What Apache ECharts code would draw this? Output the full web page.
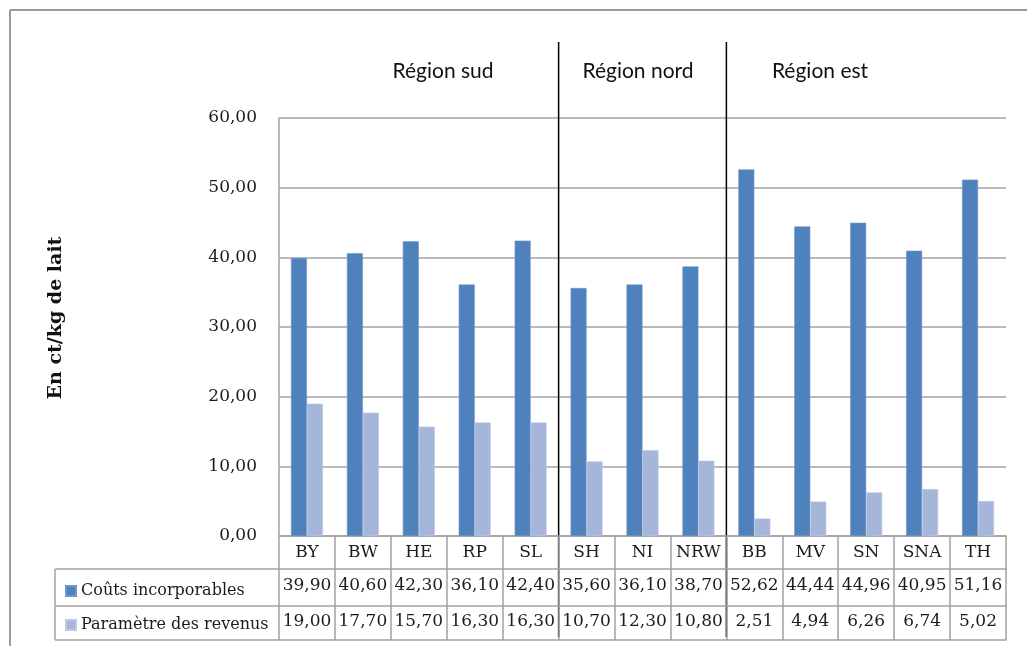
<!DOCTYPE html>
<html><head><meta charset="utf-8">
<script src="https://cdn.jsdelivr.net/npm/echarts@6/dist/echarts.min.js"></script>
<style>html,body{margin:0;padding:0;background:#fff}#c{width:1027px;height:646px}</style>
</head><body><div id="c"></div>
<script>
// ---- data ----
const categories = ['BY','BW','HE','RP','SL','SH','NI','NRW','BB','MV','SN','SNA','TH'];
const coutsIncorporables = [39.90,40.60,42.30,36.10,42.40,35.60,36.10,38.70,52.62,44.44,44.96,40.95,51.16];
const parametreRevenus = [19.00,17.70,15.70,16.30,16.30,10.70,12.30,10.80,2.51,4.94,6.26,6.74,5.02];
const seriesNames = ['Coûts incorporables','Paramètre des revenus'];
const regionNames = ['Région sud','Région nord','Région est'];
const regionBreaksAfter = ['SL','NRW'];
const yMin = 0, yMax = 60, yInterval = 10;
const yTitle = 'En ct/kg de lait';

// ---- style ----
const DARK = '#4F81BD', LIGHT = '#A5B6DA', GRID = '#A3A3A3', TXT = '#1C1C1C';
const SERIF = 'DejaVu Serif';
const fmt = v => v.toFixed(2).replace('.', ',');

const chart = echarts.init(document.getElementById('c'));
const rowAxis = (offset, tickLen, values, margin) => ({
  type: 'category', data: categories, position: 'bottom', offset: offset, gridIndex: 0,
  axisLine: {show: true, lineStyle: {color: GRID, width: 1.5}},
  axisTick: {show: true, interval: 0, length: tickLen, lineStyle: {color: GRID, width: 1.5}},
  axisLabel: values ? {show: true, interval: 0, margin: margin, fontFamily: SERIF, fontSize: 17, color: TXT,
    formatter: (v, i) => values === categories ? v : fmt(values[i])} : {show: false}
});

chart.setOption({
  animation: false,
  grid: {left: 279, top: 118, width: 727, height: 418},
  legend: {
    data: seriesNames, orient: 'vertical', left: 60, top: 578, itemGap: 18,
    itemWidth: 10, itemHeight: 10, icon: 'rect', selectedMode: false,
    textStyle: {fontFamily: SERIF, fontSize: 16, color: TXT}
  },
  xAxis: [
    rowAxis(0, 33, categories, 8),
    rowAxis(33, 37, coutsIncorporables, 8),
    rowAxis(70, 34, parametreRevenus, 7),
    rowAxis(104, 0, null, 0)
  ],
  yAxis: {
    type: 'value', min: yMin, max: yMax, interval: yInterval,
    axisLine: {show: true, lineStyle: {color: GRID, width: 1.5}},
    axisTick: {show: false},
    splitLine: {lineStyle: {color: GRID, width: 1.5}},
    axisLabel: {margin: 22, fontFamily: SERIF, fontSize: 17, color: TXT, formatter: v => fmt(v)}
  },
  series: [
    {name: seriesNames[0], type: 'bar', data: coutsIncorporables, barWidth: 16, barGap: '0%',
     itemStyle: {color: DARK, borderColor: '#6F97C9', borderWidth: 0.6}},
    {name: seriesNames[1], type: 'bar', data: parametreRevenus, barWidth: 16, barGap: '0%',
     itemStyle: {color: LIGHT, borderColor: '#BCCAE5', borderWidth: 0.6}}
  ]
});

// annotations: frame, legend-column table borders, region separators and labels, axis title
const px = c => chart.convertToPixel({xAxisIndex: 0}, c);
const boundaries = regionBreaksAfter.map(c => {
  const i = categories.indexOf(c);
  return (px(categories[i]) + px(categories[i + 1])) / 2;
});
const gl = (x1, y1, x2, y2, color, w) => ({type: 'line', shape: {x1, y1, x2, y2}, style: {stroke: color, lineWidth: w}, silent: true});
const regionX = [443, 638, 820];
chart.setOption({
  graphic: [
    gl(10, 10, 1027, 10, '#9A9A9A', 2),
    gl(10, 10, 10, 646, '#9A9A9A', 2),
    gl(55, 569, 279, 569, GRID, 1.5),
    gl(55, 606, 279, 606, GRID, 1.5),
    gl(55, 640, 279, 640, GRID, 1.5),
    gl(55, 569, 55, 640, GRID, 1.5),
    ...boundaries.map(x => gl(x, 42, x, 637, '#000', 1.5)),
    ...regionNames.map((t, k) => ({type: 'text', x: regionX[k], y: 71, silent: true,
      style: {text: t, align: 'center', verticalAlign: 'middle', font: '21px Lato', fill: '#111'}})),
    {type: 'text', x: 56, y: 318, rotation: Math.PI / 2, silent: true,
     style: {text: yTitle, align: 'center', verticalAlign: 'middle', font: 'bold 19px "DejaVu Serif"', fill: '#111'}}
  ]
});
</script></body></html>
